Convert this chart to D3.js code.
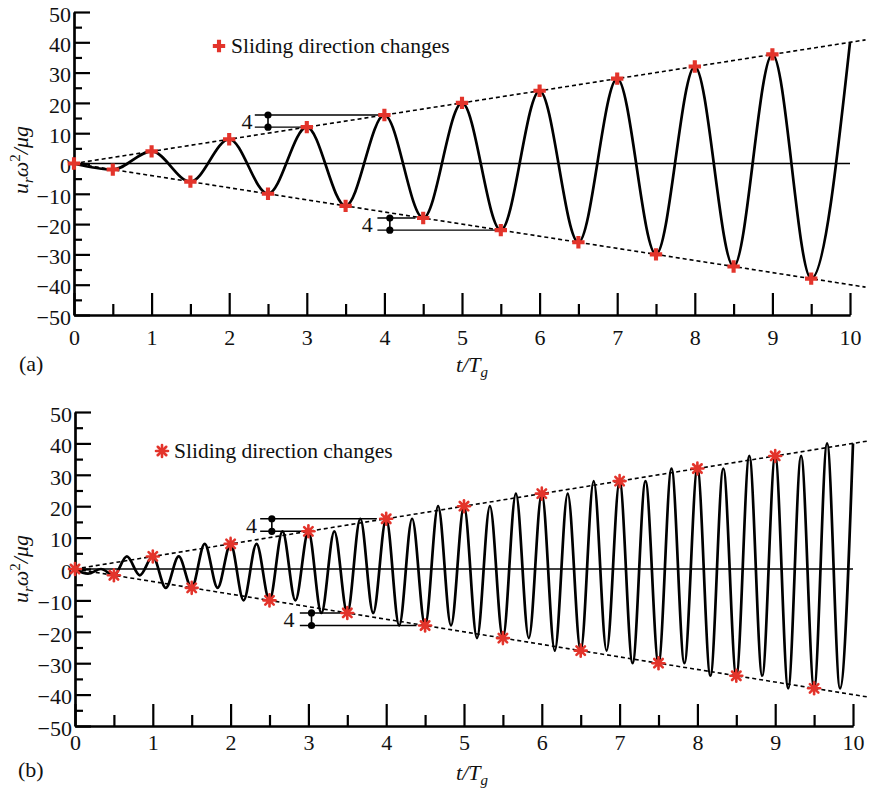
<!DOCTYPE html>
<html>
<head>
<meta charset="utf-8">
<script src="https://cdn.jsdelivr.net/npm/d3@7"></script>
<style>
  body { margin: 0; background: #fff; }
  svg text { font-family: "Liberation Serif", "Times New Roman", serif; fill: #111; }
</style>
</head>
<body>
<svg id="fig" width="870" height="788"></svg>
<script>
// ---- data ---------------------------------------------------------------
// (a) extremes of the sliding response, one half period apart
const tA = [0, 0.5, 1, 1.5, 2, 2.5, 3, 3.5, 4, 4.5, 5, 5.5, 6, 6.5, 7, 7.5, 8, 8.5, 9, 9.5, 10];
const uA = [0, -2, 4, -6, 8, -10, 12, -14, 16, -18, 20, -22, 24, -26, 28, -30, 32, -34, 36, -38, 40];

// (b) peaks and troughs of the faster oscillation
const tB = [0, 0.167, 0.333, 0.5, 0.667, 0.833, 1, 1.167, 1.333, 1.5, 1.667, 1.833,
            2, 2.167, 2.333, 2.5, 2.667, 2.833, 3, 3.167, 3.333, 3.5, 3.667, 3.833,
            4, 4.167, 4.333, 4.5, 4.667, 4.833, 5, 5.167, 5.333, 5.5, 5.667, 5.833,
            6, 6.167, 6.333, 6.5, 6.667, 6.833, 7, 7.167, 7.333, 7.5, 7.667, 7.833,
            8, 8.167, 8.333, 8.5, 8.667, 8.833, 9, 9.167, 9.333, 9.5, 9.667, 9.833, 10];
const uB = [0, -1.5, 0, -2, 4, -2, 4, -6, 4, -6, 8, -6,
            8, -10, 8, -10, 12, -10, 12, -14, 12, -14, 16, -14,
            16, -18, 16, -18, 20, -18, 20, -22, 20, -22, 24, -22,
            24, -26, 24, -26, 28, -26, 28, -30, 28, -30, 32, -30,
            32, -34, 32, -34, 36, -34, 36, -38, 36, -38, 40, -38, 40];

// points where the sliding direction changes (same in both panels)
const markT = [0, 0.5, 1, 1.5, 2, 2.5, 3, 3.5, 4, 4.5, 5, 5.5, 6, 6.5, 7, 7.5, 8, 8.5, 9, 9.5];
const markU = [0, -2, 4, -6, 8, -10, 12, -14, 16, -18, 20, -22, 24, -26, 28, -30, 32, -34, 36, -38];

// dashed bounding lines
const envT = [0, 10.2];
const envUp = [0, 40.8];
const envLo = [0, -40.8];

// axis ticks
const xMajor = [0, 1, 2, 3, 4, 5, 6, 7, 8, 9, 10];
const xMinor = [0.5, 1.5, 2.5, 3.5, 4.5, 5.5, 6.5, 7.5, 8.5, 9.5];
const yMajor = [-50, -40, -30, -20, -10, 0, 10, 20, 30, 40, 50];
const yMinor = [-45, -35, -25, -15, -5, 5, 15, 25, 35, 45];

// "4" spacing brackets: [label t, bar t, line start t, upper value, lower value, upper end t, lower end t]
const bracketsA = [
  [2.23, 2.5, 2.33, 16, 12, 3.94, 2.95],
  [3.78, 4.07, 3.91, -18, -22, 4.4, 5.47]
];
const bracketsB = [
  [2.27, 2.53, 2.38, 16, 12, 3.88, 2.98],
  [2.75, 3.04, 2.89, -14, -18, 3.45, 4.39]
];

const legendText = "Sliding direction changes";
const RED = "#e3342b";
const SERIF = '"Liberation Serif", "Times New Roman", serif';

// ---- drawing ------------------------------------------------------------
const svg = d3.select("#fig");

function markerPath(g, kind, cx, cy) {
  if (kind === "plus") {
    g.append("path")
      .attr("d", d3.symbol(d3.symbolCross, 85)())
      .attr("transform", `translate(${cx},${cy})`)
      .attr("fill", RED);
  } else {
    // eight-armed star
    const s = g.append("g").attr("transform", `translate(${cx},${cy})`);
    [0, 45, 90, 135].forEach(a => {
      s.append("line").attr("x1", -6).attr("x2", 6).attr("y1", 0).attr("y2", 0)
        .attr("transform", `rotate(${a})`)
        .attr("stroke", RED).attr("stroke-width", 2.6).attr("stroke-linecap", "round");
    });
    s.append("circle").attr("r", 3.2).attr("fill", RED);
  }
}

function drawPanel(p) {
  const x = d3.scaleLinear().domain([0, 10]).range([p.x0, p.x1]);
  const y = d3.scaleLinear().domain([-50, 50]).range([p.yBot, p.yTop]);
  const g = svg.append("g");

  // axes
  const axY = g.append("g").attr("transform", `translate(${p.x0},0)`)
    .call(d3.axisLeft(y).tickValues(yMajor).tickSizeInner(-16).tickSizeOuter(0)
      .tickPadding(3).tickFormat(d3.format("d")));
  const axYm = g.append("g").attr("transform", `translate(${p.x0},0)`)
    .call(d3.axisLeft(y).tickValues(yMinor).tickSizeInner(-8).tickSizeOuter(0).tickFormat(""));
  const axX = g.append("g").attr("transform", `translate(0,${p.yBot})`)
    .call(d3.axisBottom(x).tickValues(xMajor).tickSizeInner(-22).tickSizeOuter(0)
      .tickPadding(p.xPad).tickFormat(d3.format("d")));
  const axXm = g.append("g").attr("transform", `translate(0,${p.yBot})`)
    .call(d3.axisBottom(x).tickValues(xMinor).tickSizeInner(-11).tickSizeOuter(0).tickFormat(""));
  [axY, axYm, axX, axXm].forEach(a => {
    a.attr("font-family", SERIF);
    a.selectAll("path.domain").attr("stroke", "#000").attr("stroke-width", 2.2);
    a.selectAll(".tick line").attr("stroke", "#000").attr("stroke-width", 2.2);
    a.selectAll(".tick text").attr("font-size", 22)
      .attr("font-family", SERIF).attr("fill", "#111");
  });
  axY.selectAll(".tick text").attr("dy", "0.42em");
  axX.selectAll(".tick text").attr("dy", "0.68em");

  // zero line
  g.append("line").attr("x1", x(0)).attr("x2", x(10)).attr("y1", y(0)).attr("y2", y(0))
    .attr("stroke", "#000").attr("stroke-width", 1.6);

  // dashed bounds
  const envLine = d3.line().x((d, i) => x(envT[i])).y(d => y(d));
  [envUp, envLo].forEach(e => {
    g.append("path").attr("d", envLine(e)).attr("fill", "none")
      .attr("stroke", "#000").attr("stroke-width", 1.6).attr("stroke-dasharray", "4,3");
  });

  // response curve
  const line = d3.line().x((d, i) => x(p.t[i])).y(d => y(d)).curve(d3.curveMonotoneX);
  g.append("path").attr("d", line(p.u)).attr("fill", "none")
    .attr("stroke", "#000").attr("stroke-width", 2.7).attr("stroke-linejoin", "round");

  // brackets with the "4" label
  p.brackets.forEach(b => {
    const [tl, tb, ts, v1, v2, te1, te2] = b;
    g.append("line").attr("x1", x(ts)).attr("x2", x(te1)).attr("y1", y(v1)).attr("y2", y(v1))
      .attr("stroke", "#000").attr("stroke-width", 1.4);
    g.append("line").attr("x1", x(ts)).attr("x2", x(te2)).attr("y1", y(v2)).attr("y2", y(v2))
      .attr("stroke", "#000").attr("stroke-width", 1.4);
    g.append("line").attr("x1", x(tb)).attr("x2", x(tb)).attr("y1", y(v1)).attr("y2", y(v2))
      .attr("stroke", "#000").attr("stroke-width", 1.6);
    [v1, v2].forEach(v => g.append("circle").attr("cx", x(tb)).attr("cy", y(v)).attr("r", 3.6).attr("fill", "#000"));
    g.append("text").attr("x", x(tl)).attr("y", (y(v1) + y(v2)) / 2 + 8)
      .attr("text-anchor", "middle").attr("font-size", 22).attr("fill", "#333").text("4");
  });

  // direction-change markers
  markT.forEach((t, i) => markerPath(g, p.marker, x(t), y(markU[i])));

  // legend
  markerPath(g, p.marker, p.legX, p.legY);
  g.append("text").attr("x", p.legX + 12).attr("y", p.legY + 7).attr("font-size", 21.5).text(legendText);

  // axis titles
  const yt = g.append("text").attr("transform", `translate(${p.yTitleX},${p.yTitleY}) rotate(-90)`)
    .attr("text-anchor", "middle").attr("font-size", 22).attr("font-style", "italic");
  yt.append("tspan").text("u");
  yt.append("tspan").attr("font-size", 15).attr("dy", 5).text("r");
  yt.append("tspan").attr("dy", -5).text("ω");
  yt.append("tspan").attr("font-size", 15).attr("font-style", "normal").attr("dy", -8).text("2");
  yt.append("tspan").attr("dy", 8).text("/μg");

  const xt = g.append("text").attr("x", p.xTitleX).attr("y", p.xTitleY)
    .attr("text-anchor", "middle").attr("font-size", 22).attr("font-style", "italic");
  xt.append("tspan").text("t/T");
  xt.append("tspan").attr("font-size", 15).attr("dy", 5).text("g");

  g.append("text").attr("x", p.tagX).attr("y", p.tagY).attr("font-size", 22).text(p.tag);
}

drawPanel({
  x0: 74, x1: 850, yTop: 12, yBot: 315, xPad: 15,
  t: tA, u: uA, marker: "plus", brackets: bracketsA,
  legX: 219, legY: 46,
  yTitleX: 28, yTitleY: 160, xTitleX: 472, xTitleY: 372,
  tag: "(a)", tagX: 19, tagY: 371
});

drawPanel({
  x0: 75, x1: 853, yTop: 412, yBot: 726, xPad: 9,
  t: tB, u: uB, marker: "star", brackets: bracketsB,
  legX: 162, legY: 451,
  yTitleX: 28, yTitleY: 569, xTitleX: 472, xTitleY: 780,
  tag: "(b)", tagX: 18, tagY: 777
});
</script>
</body>
</html>
